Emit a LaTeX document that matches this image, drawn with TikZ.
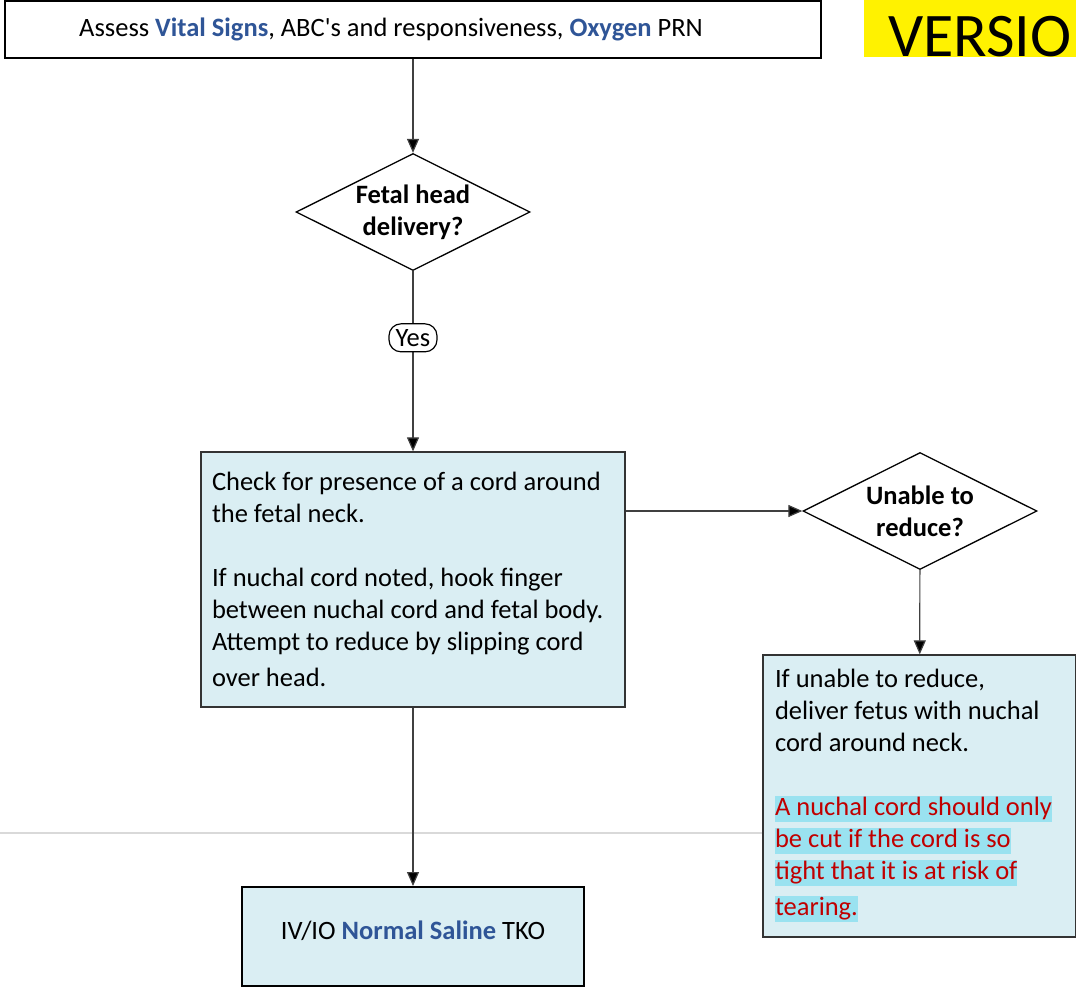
\documentclass[tikz,border=0pt]{standalone}
\usepackage{fontspec}
\setmainfont{Carlito}
\usetikzlibrary{shapes.geometric,arrows.meta}
\definecolor{boxblue}{HTML}{DAEEF3}
\definecolor{textblue}{HTML}{2F5597}
\definecolor{warnred}{HTML}{C00000}
\definecolor{hlcyan}{HTML}{9AE2F0}
\definecolor{rulegray}{HTML}{D9D9D9}
\newcommand{\keyword}[1]{\textcolor{textblue}{\bfseries #1}}
\newcommand{\cordhl}[1]{{\setlength{\fboxsep}{0pt}\colorbox{hlcyan}{\rule[-6.5pt]{0pt}{26pt}#1}}}
\begin{document}
\begin{tikzpicture}[x=1pt,y=-1pt,
    every node/.style={font=\fontsize{26.5}{32}\selectfont},
    plainbox/.style={draw=black,line width=2pt,fill=white},
    actionbox/.style={draw=black!80,line width=1.3pt,fill=boxblue,align=flush left},
    decision/.style={diamond,aspect=2,draw=black,line width=1.3pt,fill=white,inner sep=0pt,
      minimum width=234pt,minimum height=117pt,align=center,font=\fontsize{26.5}{32}\selectfont\bfseries},
    yeslabel/.style={draw=black,line width=1.2pt,fill=white,rounded corners=12pt,
      inner sep=0pt,minimum width=48pt,minimum height=28pt},
    flowarrow/.style={draw=black!75,line width=1.2pt,-{Triangle[length=14pt,width=12pt,fill=black]}}]
  \useasboundingbox (0,0) rectangle (1076,986);
  % separator behind the flow
  \draw[rulegray,line width=2pt] (0,833) -- (763,833);

  \node[plainbox,minimum width=816pt,minimum height=57pt] (assess) at (413,29)
    {Assess \keyword{Vital Signs}, ABC\textquotesingle s and responsiveness, \keyword{Oxygen} PRN\hspace*{44pt}};
  \node[fill=yellow,anchor=north west,inner xsep=24pt,inner ysep=0pt,text height=56pt,text depth=1pt,
    font=\fontsize{62}{62}\selectfont] (version) at (864,0) {VERSIO};

  \node[decision] (head) at (413,212) {Fetal head\\delivery?};
  \node[actionbox,text width=402pt,inner xsep=11pt,minimum height=255pt] (check) at (413,579.5)
    {Check for presence of a cord around\\the fetal neck.\\[32pt]
     If nuchal cord noted, hook finger\\between nuchal cord and fetal body.\\
     Attempt to reduce by slipping cord\\[4pt]over head.};
  \node[decision] (reduce) at (920,511) {Unable to\\reduce?};
  \node[actionbox,text width=289pt,inner xsep=12pt,minimum height=282pt] (nuchal) at (919.5,796)
    {If unable to reduce,\\deliver fetus with nuchal\\cord around neck.\\[32pt]
     \color{warnred}\cordhl{A nuchal cord should only}\\\cordhl{be cut if the cord is so}\\
     \cordhl{tight that it is at risk of}\\[4pt]\cordhl{tearing.}};
  \node[plainbox,fill=boxblue,minimum width=342pt,minimum height=99pt,text height=18pt,text depth=13pt]
    (saline) at (413,936.5) {IV/IO \keyword{Normal Saline} TKO};

  \draw[flowarrow] (assess) -- (head);
  \draw[flowarrow] (head) -- node[yeslabel,pos=0.37] (yes) {Yes} (check);
  \draw[flowarrow] (check.east |- reduce) -- (reduce.west);
  \draw[flowarrow] (reduce) -- (nuchal);
  \draw[flowarrow] (check) -- (saline);
\end{tikzpicture}
\end{document}
